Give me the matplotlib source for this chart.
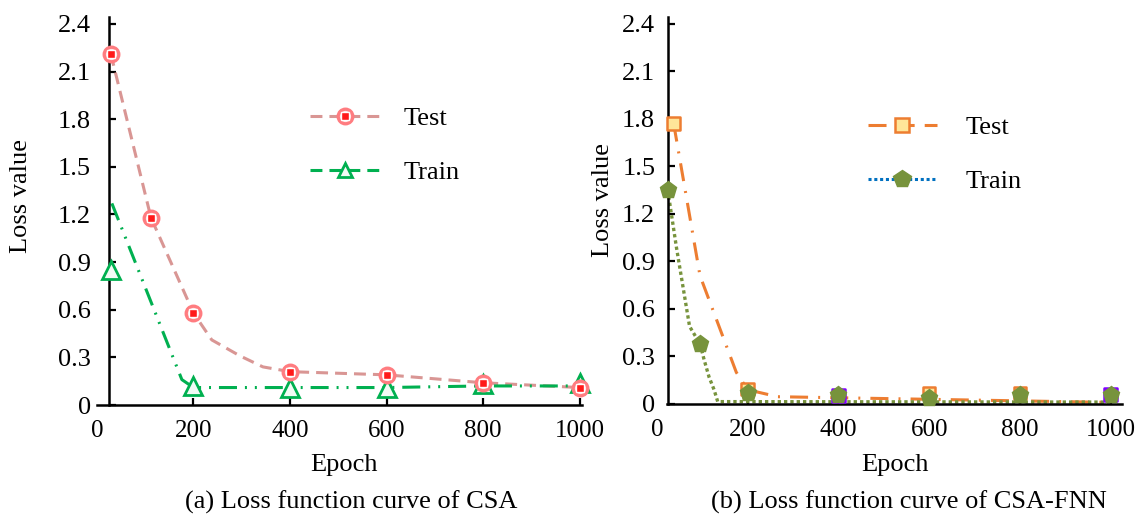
import matplotlib
matplotlib.use('Agg')
import matplotlib.pyplot as plt
from matplotlib.lines import Line2D

W, H = 1142, 516
plt.rcParams['font.family'] = ['Liberation Serif', 'DejaVu Serif']
FS = 19
FS_X = 18

# ---------------- data: (a) CSA ----------------
a_test_epoch = [29, 112, 200, 400, 600, 800, 1000]
a_test_loss = [2.21, 1.18, 0.58, 0.21, 0.19, 0.14, 0.11]
a_test_curve_epoch = [29, 112, 200, 238, 296, 344, 400, 600, 800, 1000]
a_test_curve_loss = [2.21, 1.18, 0.58, 0.41, 0.31, 0.24, 0.21, 0.19, 0.14, 0.11]
a_train_epoch = [29, 200, 400, 600, 800, 1000]
a_train_loss = [0.85, 0.12, 0.11, 0.11, 0.13, 0.14]
a_train_curve_epoch = [31, 176, 200, 400, 600, 800, 1000]
a_train_curve_loss = [1.27, 0.16, 0.11, 0.11, 0.11, 0.12, 0.12]

# ---------------- data: (b) CSA-FNN ----------------
b_test_epoch = [37, 200, 400, 600, 800, 1000]
b_test_loss = [1.77, 0.094, 0.055, 0.07, 0.07, 0.06]
b_test_curve_epoch = [37, 95, 175, 200, 266, 1000]
b_test_curve_loss = [1.77, 0.81, 0.20, 0.09, 0.046, 0.01]
b_train_epoch = [24, 95, 200, 400, 600, 800, 1000]
b_train_loss = [1.35, 0.38, 0.07, 0.055, 0.04, 0.055, 0.055]
b_train_curve_epoch = [24, 43, 72, 95, 104, 115, 126, 134, 1000]
b_train_curve_loss = [1.35, 0.99, 0.49, 0.38, 0.28, 0.17, 0.09, 0.015, 0.012]

x_ticks = [200, 400, 600, 800, 1000]
x_ticklabels = ['200', '400', '600', '800', '1000']
y_ticks = [0, 0.3, 0.6, 0.9, 1.2, 1.5, 1.8, 2.1, 2.4]
y_ticklabels = ['0', '0.3', '0.6', '0.9', '1.2', '1.5', '1.8', '2.1', '2.4']

# per-point square face colours in (b) (style only)
b_square_faces = ['#ffe699', '#ffe699', '#8000ff', '#ffe699', '#ffe699', '#8000ff']
b_square_edges = ['#ed7d31', '#ed7d31', '#8000ff', '#ed7d31', '#ed7d31', '#8000ff']

fig = plt.figure(figsize=(W / 100, H / 100), dpi=100)


def px_axes(l, r, t, b):
    return fig.add_axes([l / W, 1 - b / H, (r - l) / W, (b - t) / H])


def style_axes(ax, spine_x, ylab_x, ylab_y, xlab_x, ypad):
    for s in ['top', 'right']:
        ax.spines[s].set_visible(False)
    for s in ['left', 'bottom']:
        ax.spines[s].set_linewidth(1.8)
    ax.spines['left'].set_position(('data', spine_x))
    ax.set_ylim(0, 2.444)
    ax.set_yticks(y_ticks)
    ax.set_yticklabels(y_ticklabels)
    ax.set_xticks(x_ticks)
    ax.set_xticklabels(x_ticklabels)
    ax.set_xticks([0], minor=True)
    ax.set_xticklabels(['0'], minor=True)
    ax.tick_params(axis='both', which='major', direction='in', length=5, width=1.6,
                   labelsize=FS)
    ax.tick_params(axis='y', which='major', pad=ypad)
    ax.tick_params(axis='x', which='both', pad=11, labelsize=FS_X)
    ax.tick_params(axis='x', which='minor', length=0)
    ax.set_ylabel('Loss value', fontsize=FS, va='center')
    ax.yaxis.set_label_coords(ylab_x / W, 1 - ylab_y / H, transform=fig.transFigure)
    ax.set_xlabel('Epoch', fontsize=FS, va='center')
    ax.xaxis.set_label_coords(xlab_x / W, 1 - 465 / H, transform=fig.transFigure)


# ---------------- panel (a) ----------------
ax1 = px_axes(96.9, 582, 17, 405)
ax1.set_xlim(0, 1005)
style_axes(ax1, 25, 21, 196, 344, 13)

ls_a_test = (0, (3.9, 2.3))
ls_a_train = (0, (5.9, 2.6, 0.65, 2.6, 0.65, 2.6))
ax1.plot(a_test_curve_epoch, a_test_curve_loss, color='#d99694', lw=2.2, ls=ls_a_test, zorder=2)
ax1.plot(a_train_curve_epoch, a_train_curve_loss, color='#00b050', lw=2.2, ls=ls_a_train, zorder=2)
ax1.plot(a_train_epoch, a_train_loss, ls='none', marker='^', ms=13, mfc='#f2fbf5',
         mec='#00b050', mew=2, zorder=3, clip_on=False)
ax1.plot(a_test_epoch, a_test_loss, ls='none', marker='o', ms=10.5, mfc='#ffe6e6',
         mec='#ff7c80', mew=2.4, zorder=4, clip_on=False)
ax1.plot(a_test_epoch, a_test_loss, ls='none', marker='s', ms=5.5, mfc='#ff1a1a',
         mec='white', mew=1.0, zorder=5, clip_on=False)

hA1 = (Line2D([], [], color='#d99694', lw=2.2, ls=ls_a_test, marker='o', ms=10.5,
              mfc='#ffe6e6', mec='#ff7c80', mew=2.4),
       Line2D([], [], ls='none', marker='s', ms=5.5, mfc='#ff1a1a', mec='white', mew=1.0))
hA2 = Line2D([], [], color='#00b050', lw=2.2, ls=(0, (3.9, 2.3)), marker='^', ms=10,
             mfc='#f2fbf5', mec='#00b050', mew=2)
ax1.legend(handles=[hA1, hA2], labels=['Test', 'Train'], loc='upper left',
           bbox_to_anchor=(310 / W, 1 - 107 / H), bbox_transform=fig.transFigure,
           frameon=False, borderpad=0, borderaxespad=0, handlelength=2.65,
           handletextpad=0.9, labelspacing=1.15, fontsize=FS, numpoints=1)

# ---------------- panel (b) ----------------
ax2 = px_axes(656.9, 1122, 17, 404)
ax2.set_xlim(0, 1025)
style_axes(ax2, 24, 603, 200, 895, 9)
ax2.spines['bottom'].set_bounds(22, 1025)

ls_b_test = (0, (5.9, 3.3, 0.65, 3.3))
ls_b_train = (0, (1, 0.9))
ax2.plot(b_test_curve_epoch, b_test_curve_loss, color='#ed7d31', lw=2.2, ls=ls_b_test, zorder=2)
ax2.plot(b_train_curve_epoch, b_train_curve_loss, color='#77933c', lw=2.4, ls=ls_b_train, zorder=2)
ax2.scatter(b_test_epoch, b_test_loss, marker='s', s=9 ** 2, c=b_square_faces,
            edgecolors=b_square_edges, linewidths=1.8, zorder=3, clip_on=False)
ax2.plot(b_train_epoch, b_train_loss, ls='none', marker='p', ms=12.5, mfc='#77933c',
         mec='#77933c', mew=1, zorder=4, clip_on=False)

hB1 = Line2D([], [], color='#ed7d31', lw=2.2, ls=(0, (5.9, 3.3)), marker='s', ms=10,
             mfc='#ffe699', mec='#ed7d31', mew=1.8)
hB2 = Line2D([], [], color='#0070c0', lw=2.2, ls=(0, (1, 0.9)), marker='p', ms=13,
             mfc='#77933c', mec='#77933c', mew=1)
ax2.legend(handles=[hB1, hB2], labels=['Test', 'Train'], loc='upper left',
           bbox_to_anchor=(868 / W, 1 - 116 / H), bbox_transform=fig.transFigure,
           frameon=False, borderpad=0, borderaxespad=0, handlelength=2.6,
           handletextpad=1.1, labelspacing=1.15, fontsize=FS, numpoints=1)

# captions
fig.text(351 / W, 1 - 502 / H, '(a) Loss function curve of CSA', fontsize=FS,
         ha='center', va='center')
fig.text(909 / W, 1 - 502 / H, '(b) Loss function curve of CSA-FNN', fontsize=FS,
         ha='center', va='center')

fig.savefig('out.png', dpi=100)
